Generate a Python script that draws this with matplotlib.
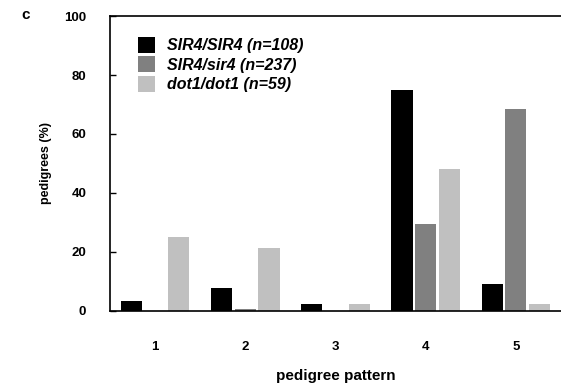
import matplotlib
matplotlib.use("Agg")
import matplotlib.pyplot as plt
import numpy as np

plt.rcParams['font.family'] = ['Liberation Sans', 'DejaVu Sans']

patterns = ["1", "2", "3", "4", "5"]
series_names = ["SIR4/SIR4 (n=108)", "SIR4/sir4 (n=237)", "dot1/dot1 (n=59)"]
sir4_sir4 = [3.4, 7.8, 2.4, 75.0, 9.2]
sir4_sir4_het = [0.0, 0.7, 0.0, 29.5, 68.5]
dot1_dot1 = [25.0, 21.4, 2.4, 48.0, 2.4]
yticks = [0, 20, 40, 60, 80, 100]

colors = ["#000000", "#808080", "#c0c0c0"]

fig = plt.figure(figsize=(5.61, 3.92), dpi=100)
ax = fig.add_axes([0.196, 0.207, 0.804, 0.752])

x = np.arange(1, len(patterns) + 1)
w = 0.235
off = 0.262
for i, (vals, name) in enumerate(zip([sir4_sir4, sir4_sir4_het, dot1_dot1], series_names)):
    ax.bar(x + (i - 1) * off, vals, width=w, color=colors[i], label=name, edgecolor='none')

ax.set_xlim(0.5, 5.5)
ax.set_ylim(0, 100)
ax.set_yticks(yticks)
ax.set_xticks(x)
ax.set_xticklabels(patterns)
ax.tick_params(axis='y', direction='in', length=4, width=1, pad=17, labelsize=9.5)
ax.tick_params(axis='x', length=0, pad=22, labelsize=9.5)
for lbl in ax.get_yticklabels() + ax.get_xticklabels():
    lbl.set_fontweight('bold')
ax.spines['right'].set_visible(False)
for s in ['left', 'top', 'bottom']:
    ax.spines[s].set_linewidth(1.2)

ax.set_xlabel("pedigree pattern", fontsize=11, fontweight='bold', labelpad=11)
ax.set_ylabel("pedigrees (%)", fontsize=9, fontweight='bold', labelpad=9)

leg = ax.legend(loc='upper left', bbox_to_anchor=(0.062, 0.93), frameon=False,
                prop={'size': 11.5, 'weight': 'bold', 'style': 'italic'},
                handlelength=1.05, handleheight=1.15, handletextpad=0.75,
                labelspacing=0.2, borderaxespad=0, borderpad=0)

fig.text(0.038, 0.962, "c", fontsize=11, fontweight='bold', va='center')

fig.savefig("out.png", dpi=100)
